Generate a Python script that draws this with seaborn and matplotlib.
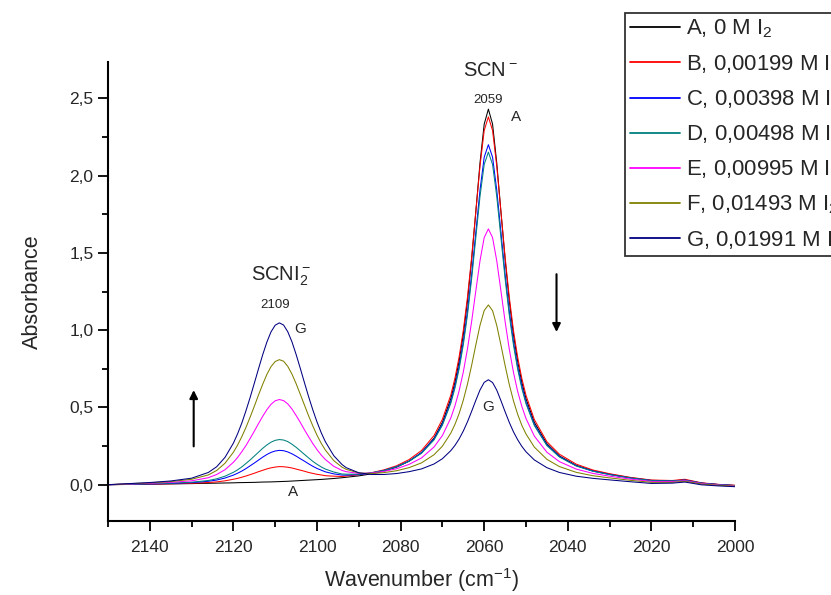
import matplotlib
matplotlib.use("Agg")
import matplotlib.pyplot as plt
import pandas as pd
import seaborn as sns
from matplotlib.ticker import MultipleLocator, FuncFormatter

wavenumber = [2150, 2140, 2135, 2130, 2126, 2124, 2122, 2120, 2119, 2118,
              2117, 2116, 2115, 2114, 2113, 2112, 2111, 2110, 2109, 2108,
              2107, 2106, 2105, 2104, 2103, 2102, 2101, 2100, 2099, 2098,
              2096, 2094, 2093, 2090, 2087, 2084, 2081, 2078, 2075, 2072,
              2070, 2068, 2067, 2066, 2065, 2064, 2063, 2062, 2061, 2060,
              2059, 2058, 2057, 2056, 2055, 2054, 2053, 2052, 2051, 2050,
              2048, 2045, 2042, 2038, 2034, 2030, 2025, 2020, 2015, 2012,
              2008, 2004, 2000]

abs_A = [0.0, 0.003, 0.005, 0.007, 0.009, 0.010, 0.011, 0.012, 0.013, 0.0135,
         0.014, 0.0145, 0.015, 0.016, 0.017, 0.0175, 0.018, 0.019, 0.02, 0.021,
         0.022, 0.0235, 0.025, 0.0265, 0.028, 0.0295, 0.031, 0.0325, 0.034, 0.036,
         0.04, 0.045, 0.048, 0.057, 0.07, 0.088, 0.113, 0.152, 0.208, 0.301,
         0.403, 0.556, 0.663, 0.80, 0.972, 1.19, 1.458, 1.767, 2.083, 2.333,
         2.43, 2.333, 2.083, 1.767, 1.458, 1.19, 0.972, 0.80, 0.663, 0.556,
         0.403, 0.265, 0.186, 0.125, 0.09, 0.068, 0.045, 0.028, 0.025, 0.031,
         0.01, 0.001, -0.005]
abs_B = [0.0, 0.004, 0.006, 0.009, 0.014, 0.018, 0.025, 0.035, 0.041, 0.048,
         0.056, 0.065, 0.074, 0.084, 0.093, 0.102, 0.109, 0.114, 0.117, 0.116,
         0.113, 0.108, 0.101, 0.094, 0.087, 0.079, 0.073, 0.067, 0.063, 0.058,
         0.055, 0.053, 0.056, 0.064, 0.077, 0.096, 0.122, 0.162, 0.221, 0.318,
         0.423, 0.579, 0.689, 0.827, 0.999, 1.214, 1.473, 1.768, 2.063, 2.292,
         2.38, 2.292, 2.063, 1.768, 1.473, 1.214, 0.998, 0.826, 0.688, 0.578,
         0.421, 0.278, 0.197, 0.133, 0.095, 0.071, 0.047, 0.03, 0.027, 0.035,
         0.012, 0.002, -0.004]
abs_C = [0.0, 0.005, 0.008, 0.013, 0.022, 0.03, 0.043, 0.062, 0.074, 0.088,
         0.104, 0.122, 0.14, 0.159, 0.178, 0.195, 0.209, 0.218, 0.222, 0.22,
         0.212, 0.2, 0.185, 0.168, 0.152, 0.135, 0.119, 0.105, 0.094, 0.083,
         0.07, 0.062, 0.062, 0.065, 0.075, 0.092, 0.116, 0.152, 0.207, 0.296,
         0.392, 0.537, 0.639, 0.766, 0.926, 1.124, 1.362, 1.635, 1.907, 2.119,
         2.2, 2.119, 1.907, 1.635, 1.362, 1.122, 0.925, 0.763, 0.638, 0.535,
         0.389, 0.257, 0.182, 0.123, 0.088, 0.066, 0.043, 0.027, 0.024, 0.03,
         0.01, 0.001, -0.006]
abs_D = [0.0, 0.006, 0.01, 0.016, 0.027, 0.038, 0.055, 0.08, 0.096, 0.115,
         0.137, 0.16, 0.185, 0.21, 0.235, 0.257, 0.275, 0.287, 0.292, 0.289,
         0.279, 0.262, 0.242, 0.219, 0.196, 0.173, 0.151, 0.132, 0.115, 0.101,
         0.082, 0.069, 0.068, 0.068, 0.077, 0.092, 0.115, 0.151, 0.203, 0.29,
         0.385, 0.526, 0.625, 0.749, 0.905, 1.099, 1.334, 1.6, 1.866, 2.072,
         2.152, 2.072, 1.866, 1.599, 1.333, 1.098, 0.904, 0.748, 0.623, 0.524,
         0.382, 0.253, 0.179, 0.121, 0.087, 0.065, 0.043, 0.026, 0.024, 0.029,
         0.009, 0.0, -0.006]
abs_E = [0.0, 0.009, 0.015, 0.025, 0.045, 0.066, 0.097, 0.145, 0.176, 0.213,
         0.253, 0.299, 0.346, 0.395, 0.442, 0.485, 0.52, 0.543, 0.551, 0.544,
         0.523, 0.49, 0.448, 0.403, 0.355, 0.31, 0.266, 0.227, 0.192, 0.163,
         0.119, 0.092, 0.084, 0.073, 0.075, 0.086, 0.103, 0.131, 0.173, 0.244,
         0.318, 0.431, 0.51, 0.607, 0.729, 0.879, 1.057, 1.255, 1.45, 1.599,
         1.655, 1.599, 1.449, 1.254, 1.056, 0.877, 0.727, 0.604, 0.507, 0.428,
         0.314, 0.21, 0.149, 0.101, 0.073, 0.055, 0.036, 0.021, 0.02, 0.026,
         0.007, -0.002, -0.008]
abs_F = [0.0, 0.012, 0.02, 0.035, 0.063, 0.092, 0.139, 0.21, 0.256, 0.31,
         0.37, 0.437, 0.507, 0.58, 0.649, 0.713, 0.764, 0.797, 0.809, 0.799,
         0.766, 0.716, 0.654, 0.585, 0.515, 0.445, 0.38, 0.32, 0.268, 0.224,
         0.156, 0.113, 0.099, 0.076, 0.072, 0.078, 0.09, 0.11, 0.141, 0.194,
         0.249, 0.333, 0.39, 0.46, 0.547, 0.651, 0.773, 0.905, 1.032, 1.127,
         1.163, 1.126, 1.031, 0.904, 0.771, 0.648, 0.543, 0.456, 0.384, 0.328,
         0.243, 0.164, 0.117, 0.08, 0.058, 0.044, 0.028, 0.015, 0.015, 0.022,
         0.004, -0.004, -0.01]
abs_G = [0.0, 0.014, 0.024, 0.042, 0.079, 0.116, 0.177, 0.269, 0.329, 0.398,
         0.478, 0.564, 0.656, 0.749, 0.84, 0.922, 0.989, 1.032, 1.047, 1.033,
         0.99, 0.925, 0.843, 0.753, 0.66, 0.569, 0.484, 0.406, 0.337, 0.278,
         0.188, 0.13, 0.11, 0.077, 0.066, 0.066, 0.072, 0.084, 0.102, 0.134,
         0.168, 0.22, 0.254, 0.296, 0.347, 0.407, 0.475, 0.546, 0.613, 0.662,
         0.679, 0.661, 0.612, 0.544, 0.472, 0.403, 0.342, 0.291, 0.248, 0.213,
         0.16, 0.11, 0.079, 0.055, 0.041, 0.031, 0.019, 0.008, 0.01, 0.017,
         -0.001, -0.008, -0.013]

series_labels = ["A, 0 M I$_2$", "B, 0,00199 M I$_2$", "C, 0,00398 M I$_2$",
                 "D, 0,00498 M I$_2$", "E, 0,00995 M I$_2$", "F, 0,01493 M I$_2$",
                 "G, 0,01991 M I$_2$"]
series_values = [abs_A, abs_B, abs_C, abs_D, abs_E, abs_F, abs_G]
series_colors = ["#000000", "#ff0000", "#0000ff", "#008080", "#ff00ff", "#808000", "#000080"]

x_ticks = [2140, 2120, 2100, 2080, 2060, 2040, 2020, 2000]
y_ticks = [0.0, 0.5, 1.0, 1.5, 2.0, 2.5]

sns.set_style("ticks")
plt.rcParams['font.family'] = ['Liberation Sans', 'DejaVu Sans']
plt.rcParams['mathtext.fontset'] = 'custom'
plt.rcParams['mathtext.rm'] = 'Liberation Sans'
plt.rcParams['mathtext.it'] = 'Liberation Sans:italic'
plt.rcParams['mathtext.bf'] = 'Liberation Sans:bold'
plt.rcParams['mathtext.default'] = 'regular'

rows = []
for lab, vals in zip(series_labels, series_values):
    for w, a in zip(wavenumber, vals):
        rows.append({"wn": w, "abs": a, "series": lab})
df = pd.DataFrame(rows)

fig = plt.figure(figsize=(8.31, 5.95), dpi=100)
ax = fig.add_axes([108 / 831, 74 / 595, (735 - 108) / 831, (521 - 62) / 595])

sns.lineplot(data=df, x="wn", y="abs", hue="series", hue_order=series_labels,
             palette=dict(zip(series_labels, series_colors)), estimator=None,
             legend=False, linewidth=0.75, ax=ax)

ax.set_xlim(2150, 2000)
ax.set_ylim(-0.235, 2.735)
for s in ["top", "right"]:
    ax.spines[s].set_visible(False)
for s in ["left", "bottom"]:
    ax.spines[s].set_linewidth(1.5)
    ax.spines[s].set_color("black")

ax.set_xticks(x_ticks)
ax.xaxis.set_minor_locator(MultipleLocator(10))
ax.set_yticks(y_ticks)
ax.yaxis.set_minor_locator(MultipleLocator(0.25))
ax.xaxis.set_major_formatter(FuncFormatter(lambda v, p: f"{int(round(v))}"))
ax.yaxis.set_major_formatter(FuncFormatter(lambda v, p: f"{v:.1f}".replace(".", ",")))
ax.tick_params(axis="x", which="major", pad=7)
ax.tick_params(which="major", direction="out", length=7, width=1.3, labelsize=12.5, color="black")
ax.tick_params(which="minor", direction="out", length=4, width=1.3, color="black")

ax.set_xlabel("Wavenumber (cm$^{-1}$)", fontsize=15.5, labelpad=8)
ax.set_ylabel("Absorbance", fontsize=15.5, labelpad=19)

# annotations
ax.text(2108.5, 1.35, "SCNI$_2^-$", fontsize=14.5, ha="center", va="center")
ax.text(2110, 1.16, "2109", fontsize=9.5, ha="center", va="center")
ax.text(2104, 1.01, "G", fontsize=11, ha="center", va="center")
ax.text(2058.6, 2.68, "SCN$^-$", fontsize=14.5, ha="center", va="center")
ax.text(2059.0, 2.49, "2059", fontsize=9.5, ha="center", va="center")
ax.text(2052.4, 2.38, "A", fontsize=11, ha="center", va="center")
ax.text(2059, 0.505, "G", fontsize=11, ha="center", va="center")
ax.text(2105.8, -0.05, "A", fontsize=11, ha="center", va="center")

ax.annotate("", xy=(2129.5, 0.63), xytext=(2129.5, 0.23),
            arrowprops=dict(arrowstyle="-|>", color="black", lw=1.5, mutation_scale=12))
ax.annotate("", xy=(2042.7, 0.97), xytext=(2042.7, 1.38),
            arrowprops=dict(arrowstyle="-|>", color="black", lw=1.5, mutation_scale=12))

handles = ax.lines[:len(series_labels)]
leg = fig.legend(handles, series_labels, loc="upper left",
                 bbox_to_anchor=(625 / 831, 1 - 13 / 595),
                 frameon=True, fancybox=False, edgecolor="black", fontsize=15.9,
                 handlelength=2.25, handletextpad=0.28, labelspacing=0.57,
                 borderpad=0.22, borderaxespad=0.0)
leg.get_frame().set_linewidth(1.3)
for h in leg.get_lines():
    h.set_linewidth(1.3)

fig.savefig("out.png", dpi=100)
